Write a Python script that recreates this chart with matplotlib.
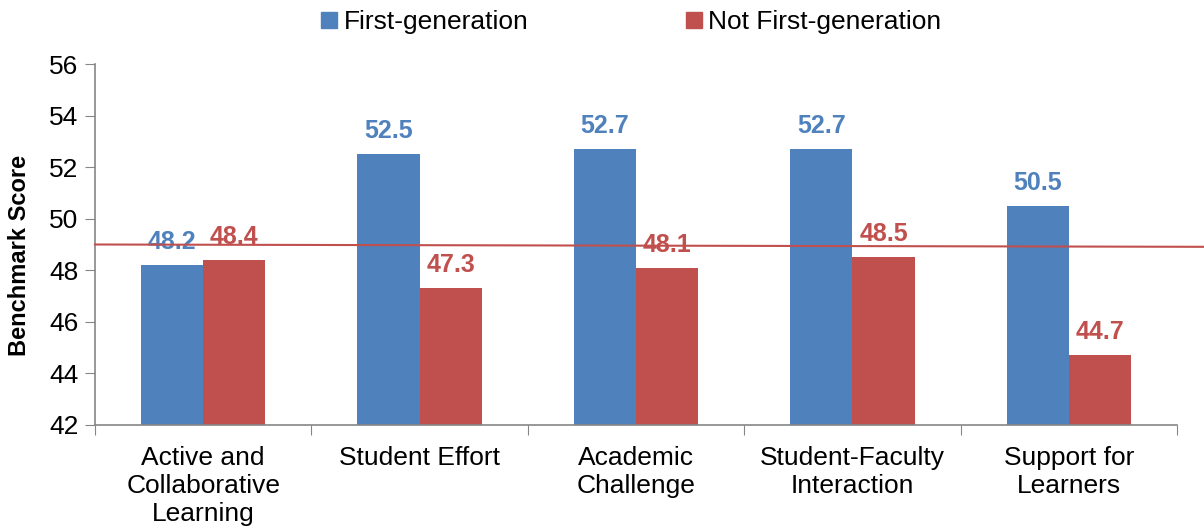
import matplotlib
matplotlib.use("Agg")
import matplotlib.pyplot as plt
from matplotlib.lines import Line2D
import numpy as np

plt.rcParams['font.family'] = ['Liberation Sans', 'DejaVu Sans']

categories = ["Active and\nCollaborative\nLearning", "Student Effort", "Academic\nChallenge",
              "Student-Faculty\nInteraction", "Support for\nLearners"]
first_gen = [48.2, 52.5, 52.7, 52.7, 50.5]
not_first_gen = [48.4, 47.3, 48.1, 48.5, 44.7]
series_names = ["First-generation", "Not First-generation"]
yticks = [42, 44, 46, 48, 50, 52, 54, 56]
ref_line_y = [49.0, 48.91]

blue = "#4F81BD"
red = "#C0504D"

fig = plt.figure(figsize=(12.04, 5.29), dpi=100)
ax = fig.add_axes([95/1204, 1-425/529, (1177-95)/1204, (425-64)/529])

x = np.arange(len(categories))
w = 0.287
ax.bar(x - w/2, first_gen, w, color=blue, zorder=2)
ax.bar(x + w/2, not_first_gen, w, color=red, zorder=2)

for xi, v in zip(x, first_gen):
    ax.annotate(f"{v:.1f}", (xi - w/2, v), xytext=(0, 8), textcoords="offset points",
                ha="center", va="bottom", color=blue, fontsize=18, fontweight="bold")
for xi, v in zip(x, not_first_gen):
    ax.annotate(f"{v:.1f}", (xi + w/2, v), xytext=(0, 8), textcoords="offset points",
                ha="center", va="bottom", color=red, fontsize=18, fontweight="bold")

ax.set_xlim(-0.5, len(categories) - 0.5)
ax.set_ylim(42, 56)
ax.set_yticks(yticks)
ax.tick_params(axis="y", labelsize=19, length=7, color="#868686", direction="out", pad=5)
ax.set_xticks(np.arange(len(categories) + 1) - 0.5, minor=False)
ax.set_xticklabels([])
ax.set_xticks(x, minor=True)
ax.set_xticklabels(categories, minor=True, fontsize=19, linespacing=1.22)
ax.tick_params(axis="x", which="major", length=7, color="#868686", direction="out")
ax.tick_params(axis="x", which="minor", length=0, pad=15)

for s in ["top", "right"]:
    ax.spines[s].set_visible(False)
for s in ["left", "bottom"]:
    ax.spines[s].set_color("#868686")
    ax.spines[s].set_linewidth(1.2)

ax.set_ylabel("Benchmark Score", fontsize=17, fontweight="bold")
ax.yaxis.set_label_coords((31 - 95) / (1177 - 95), (425 - 255) / (425 - 64))

# reference line extending beyond the plot area
x_right = -0.5 + (1204 - 95) / ((1177 - 95) / 5)
ax.plot([-0.5, x_right], ref_line_y, color=red, lw=1.5, clip_on=False, zorder=3)

handles = [Line2D([], [], marker="s", linestyle="none", markersize=11, color=blue),
           Line2D([], [], marker="s", linestyle="none", markersize=11, color=red)]
fig.legend(handles, series_names, loc="center", bbox_to_anchor=(632/1204, 1-22/529), ncol=2,
           frameon=False, fontsize=19, handlelength=0.5, handletextpad=0.3, columnspacing=6.0,
           borderpad=0)

fig.savefig("out.png", dpi=100)
